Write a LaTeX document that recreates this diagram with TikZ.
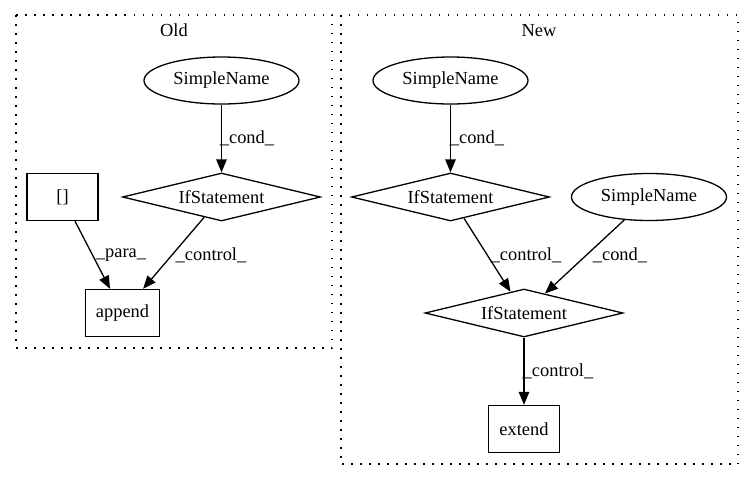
\documentclass[tikz,border=0pt]{standalone}
\usepackage{fontspec}
\setmainfont{Liberation Serif}
\usetikzlibrary{shapes.geometric,arrows.meta}
\begin{document}
\begin{tikzpicture}[x=1pt,y=-1pt,
  every node/.style={font=\fontsize{18.4}{22}\selectfont},
  base/.style={draw,line width=1.3pt,inner sep=0pt},
  ell/.style={base,ellipse,minimum width=155pt,minimum height=47pt},
  dia/.style={base,diamond,aspect=4.125,minimum width=198pt,minimum height=48pt},
  boxn/.style={base,rectangle,minimum width=71pt,minimum height=47pt,inner xsep=10.5pt},
  clus/.style={line width=1.3pt,dash pattern=on 1.5pt off 7.5pt},
  conn/.style={line width=1.3pt,-{Triangle[length=13pt,width=10.5pt]}},
  lab/.style={inner sep=0pt}]
\useasboundingbox (0,0) rectangle (753,480);
% clusters
\draw[clus] (16,15) rectangle (332,348);
\draw[clus] (341,15) rectangle (738,464);
\node[lab] (told) at (174,30.5) {Old};
\node[lab] (tnew) at (539,30.5) {New};
% Old nodes
\node[ell] (osn) at (221.5,80.5) {SimpleName};
\node[dia] (oif) at (221.5,197) {IfStatement};
\node[boxn] (olb) at (62.5,197) {[]};
\node[boxn] (oap) at (122.5,313) {append};
% New nodes
\node[ell] (nsnA) at (450.5,80.5) {SimpleName};
\node[dia] (nifA) at (450.5,197) {IfStatement};
\node[ell] (nsnB) at (649,197) {SimpleName};
\node[dia] (nifB) at (524,313) {IfStatement};
\node[boxn] (nex) at (524,429) {extend};
% Old edges
\draw[conn] (osn) -- (oif);
\draw[conn] (olb) -- (oap);
\draw[conn] (oif) -- (oap);
\node[lab] (l1) at (247,138) {\_cond\_};
\node[lab] (l2) at (121,255) {\_para\_};
\node[lab] (l3) at (211,255) {\_control\_};
% New edges
\draw[conn] (nsnA) -- (nifA);
\draw[conn] (nifA) -- (nifB);
\draw[conn] (nsnB) -- (nifB);
\draw[conn] (nifB) -- (nex);
\node[lab] (l4) at (477,138) {\_cond\_};
\node[lab] (l5) at (526,255) {\_control\_};
\node[lab] (l6) at (620,255) {\_cond\_};
\node[lab] (l7) at (558,371) {\_control\_};
\end{tikzpicture}
\end{document}
